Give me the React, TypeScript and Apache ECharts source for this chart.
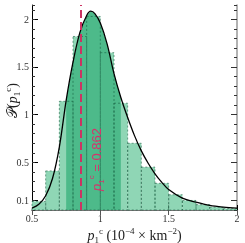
import React, { useEffect, useRef } from "react";
import * as echarts from "echarts";

// histogram bin edges and heights
const binEdges = [0.5, 0.6, 0.7, 0.8, 0.9, 1.0, 1.1, 1.2, 1.3, 1.4, 1.5, 1.6, 1.7, 1.8, 1.9, 2.0];
const binHeights = [0.09, 0.41, 1.14, 1.82, 2.03, 1.65, 1.12, 0.70, 0.45, 0.28, 0.16, 0.10, 0.056, 0.03, 0.015];

// fitted density curve
const curveX = [0.5, 0.55, 0.6, 0.65, 0.7, 0.75, 0.8, 0.85, 0.9, 0.93, 0.96, 1.0, 1.05, 1.1, 1.15, 1.2, 1.25, 1.3, 1.35, 1.4, 1.45, 1.5, 1.6, 1.7, 1.8, 1.9, 2.0];
const curveY = [0.02, 0.06, 0.15, 0.33, 0.66, 1.15, 1.55, 1.86, 2.04, 2.085, 2.06, 1.96, 1.74, 1.43, 1.18, 0.97, 0.78, 0.62, 0.49, 0.38, 0.29, 0.215, 0.125, 0.082, 0.048, 0.03, 0.02];

const shadeRange = [0.75, 1.15];
const criticalValue = 0.862;
const xTicks = [0.5, 1, 1.5, 2];
const yMajorTicks = [0.1, 0.5, 1, 1.5, 2];

export default function App() {
  const ref = useRef<HTMLDivElement>(null);
  useEffect(() => {
    const chart = echarts.init(ref.current!, null, { renderer: "svg" });
    const serif = "'Liberation Serif', 'DejaVu Serif', serif";
    const sans = "'Liberation Sans', 'DejaVu Sans', sans-serif";
    const bars = binHeights.map((h, i) => [binEdges[i], binEdges[i + 1], h]);
    const curve = curveX.map((x, i) => [x, curveY[i]]);
    const shadePts = curve.filter((p) => p[0] >= shadeRange[0] - 1e-9 && p[0] <= shadeRange[1] + 1e-9);

    const barRender = (fill: string, stroke: string | null) => (params: any, api: any) => {
      const p0 = api.coord([api.value(0), api.value(2)]);
      const p1 = api.coord([api.value(1), 0]);
      return {
        type: "rect",
        shape: { x: p0[0], y: p0[1], width: p1[0] - p0[0], height: p1[1] - p0[1] },
        style: stroke
          ? { fill: "none", stroke, lineWidth: 1, lineDash: [2, 2] }
          : { fill },
      };
    };

    const minorY = {
      type: "value",
      min: 0,
      max: 2.15,
      interval: 0.1,
      axisLine: { show: false },
      axisTick: { show: true, inside: true, length: 3, lineStyle: { color: "#333", width: 1 } },
      axisLabel: { show: false },
      splitLine: { show: false },
    };

    const option: any = {
      animation: false,
      grid: { left: 32, right: 8, top: 5, bottom: 33 },
      xAxis: [
        {
          type: "value",
          position: "bottom",
          min: 0.5,
          max: 2,
          interval: 0.5,
          axisLine: { show: true, lineStyle: { color: "#000", width: 1 } },
          axisTick: { show: true, inside: true, length: 5, lineStyle: { color: "#000" } },
          axisLabel: { margin: 3, fontFamily: serif, fontSize: 10, color: "#333", customValues: xTicks },
          splitLine: { show: false },
        },
        {
          type: "value",
          position: "top",
          min: 0.5,
          max: 2,
          interval: 0.5,
          axisLine: { show: true, lineStyle: { color: "#999", width: 1.5 } },
          axisTick: { show: true, inside: true, length: 5, lineStyle: { color: "#555" } },
          axisLabel: { show: false },
          splitLine: { show: false },
        },
      ],
      yAxis: [
        {
          type: "value",
          position: "left",
          min: 0,
          max: 2.15,
          axisLine: { show: true, lineStyle: { color: "#000", width: 1 } },
          axisTick: { show: true, inside: true, length: 6, customValues: yMajorTicks, lineStyle: { color: "#000" } },
          axisLabel: { margin: 3, fontFamily: serif, fontSize: 10, color: "#333", customValues: yMajorTicks },
          splitLine: { show: false },
        },
        { ...minorY, position: "left" },
        {
          type: "value",
          position: "right",
          min: 0,
          max: 2.15,
          axisLine: { show: true, lineStyle: { color: "#999", width: 1.5 } },
          axisTick: { show: true, inside: true, length: 6, customValues: yMajorTicks, lineStyle: { color: "#333" } },
          axisLabel: { show: false },
          splitLine: { show: false },
        },
        { ...minorY, position: "right" },
      ],
      series: [
        {
          type: "custom",
          name: "hist",
          xAxisIndex: 0,
          yAxisIndex: 0,
          z: 1,
          data: bars,
          renderItem: barRender("#8fd6b5", null),
        },
        {
          type: "custom",
          name: "shade",
          xAxisIndex: 0,
          yAxisIndex: 0,
          z: 2,
          data: [[shadeRange[0], shadeRange[1]]],
          renderItem: (params: any, api: any) => {
            const pts = shadePts.map((p) => api.coord(p));
            pts.unshift(api.coord([shadeRange[0], 0]));
            pts.push(api.coord([shadeRange[1], 0]));
            return { type: "polygon", shape: { points: pts }, style: { fill: "#4dba8a" } };
          },
        },
        {
          type: "custom",
          name: "edges",
          xAxisIndex: 0,
          yAxisIndex: 0,
          z: 3,
          data: bars,
          renderItem: barRender("none", "rgba(20,90,60,0.55)"),
        },
        {
          type: "line",
          name: "density",
          xAxisIndex: 0,
          yAxisIndex: 0,
          z: 4,
          data: curve,
          smooth: 0.35,
          showSymbol: false,
          lineStyle: { color: "#000", width: 1.3 },
          markLine: {
            silent: true,
            symbol: "none",
            label: { show: false },
            lineStyle: { color: "#cc3363", type: [8, 4], width: 2 },
            data: [{ xAxis: criticalValue }],
          },
        },
      ],
    };
    chart.setOption(option);

    const toPx = (x: number, y: number) => chart.convertToPixel({ gridIndex: 0 }, [x, y]) as number[];
    const lineP = toPx(criticalValue, 0.53);
    const bl = toPx(0.5, 0);
    const tr = toPx(2, 2.15);
    const midX = (bl[0] + tr[0]) / 2;

    chart.setOption({
      graphic: [
        {
          type: "text",
          x: lineP[0] + 15,
          y: lineP[1],
          rotation: Math.PI / 2,
          z: 10,
          style: {
            text: "{p|p}{s|1}{c|c}{t| = 0.862}",
            align: "center",
            verticalAlign: "middle",
            fill: "#d6336c",
            rich: {
              p: { fontFamily: sans, fontStyle: "italic", fontSize: 13, lineHeight: 18, fill: "#d6336c" },
              s: { fontFamily: sans, fontSize: 8, lineHeight: 9, verticalAlign: "bottom", fill: "#d6336c" },
              c: { fontFamily: sans, fontSize: 8, lineHeight: 9, verticalAlign: "top", fill: "#d6336c" },
              t: { fontFamily: sans, fontSize: 13, lineHeight: 18, fill: "#d6336c" },
            },
          },
        },
        {
          type: "text",
          x: midX,
          y: 235,
          z: 10,
          style: {
            text: "{p|p}{s|1}{c|c}{t| (10}{u|−4}{t| × km}{u|−2}{t|)}",
            align: "center",
            verticalAlign: "middle",
            fill: "#222",
            rich: {
              p: { fontFamily: serif, fontStyle: "italic", fontSize: 14, lineHeight: 18, fill: "#222" },
              s: { fontFamily: serif, fontSize: 9, lineHeight: 9, verticalAlign: "bottom", fill: "#222" },
              c: { fontFamily: serif, fontSize: 9, lineHeight: 9, verticalAlign: "top", fill: "#222" },
              t: { fontFamily: serif, fontSize: 14, lineHeight: 18, fill: "#222" },
              u: { fontFamily: serif, fontSize: 9, lineHeight: 9, verticalAlign: "top", fill: "#222" },
            },
          },
        },
        {
          type: "text",
          x: 12,
          y: (bl[1] + tr[1]) / 2 - 7,
          rotation: Math.PI / 2,
          z: 10,
          style: {
            text: "{P|𝒫}{t|(}{p|p}{s|1}{c|c}{t|)}",
            align: "center",
            verticalAlign: "middle",
            fill: "#222",
            rich: {
              P: { fontFamily: "'DejaVu Serif', 'DejaVu Sans', serif", fontSize: 14, lineHeight: 18, fill: "#222" },
              p: { fontFamily: serif, fontStyle: "italic", fontSize: 14, lineHeight: 18, fill: "#222" },
              s: { fontFamily: serif, fontSize: 9, lineHeight: 9, verticalAlign: "bottom", fill: "#222" },
              c: { fontFamily: serif, fontSize: 9, lineHeight: 9, verticalAlign: "top", fill: "#222" },
              t: { fontFamily: serif, fontSize: 14, lineHeight: 18, fill: "#222" },
            },
          },
        },
      ],
    });

    return () => chart.dispose();
  }, []);
  return <div ref={ref} style={{ position: "fixed", left: 0, top: 0, width: 245, height: 243 }} />;
}
